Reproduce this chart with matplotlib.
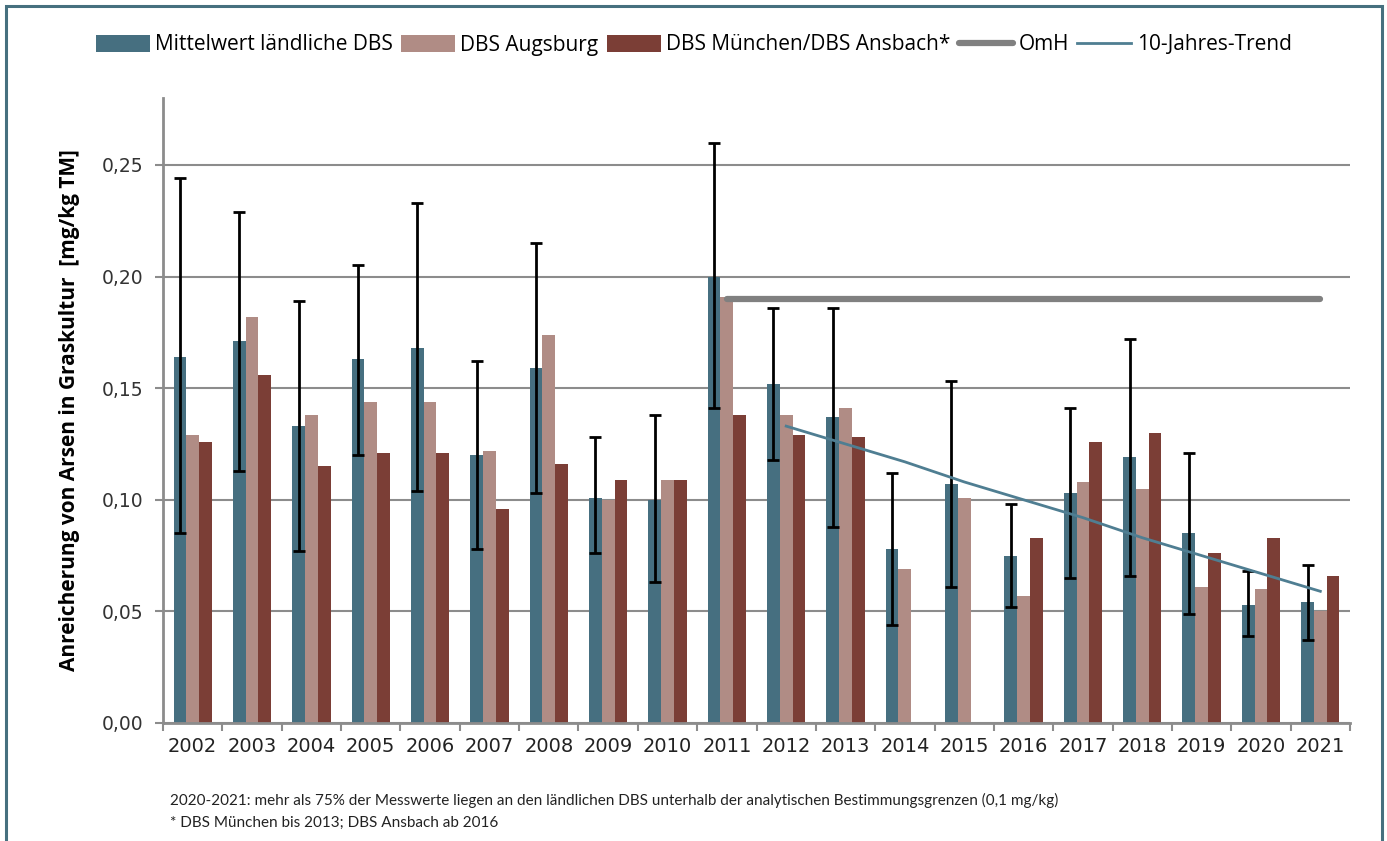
import numpy as np
import matplotlib
matplotlib.use("Agg")
import matplotlib.pyplot as plt
from matplotlib.patches import Rectangle

years = [str(y) for y in range(2002, 2022)]

# Mittelwert laendliche DBS + Fehlerbalken (obere / untere Enden)
rural = [0.164, 0.171, 0.133, 0.163, 0.168, 0.120, 0.159, 0.101, 0.100, 0.200,
         0.152, 0.137, 0.078, 0.107, 0.075, 0.103, 0.119, 0.085, 0.053, 0.054]
err_hi = [0.244, 0.229, 0.189, 0.205, 0.233, 0.162, 0.215, 0.128, 0.138, 0.260,
          0.186, 0.186, 0.112, 0.153, 0.098, 0.141, 0.172, 0.121, 0.068, 0.071]
err_lo = [0.085, 0.113, 0.077, 0.120, 0.104, 0.078, 0.103, 0.076, 0.063, 0.141,
          0.118, 0.088, 0.044, 0.061, 0.052, 0.065, 0.066, 0.049, 0.039, 0.037]
augsburg = [0.129, 0.182, 0.138, 0.144, 0.144, 0.122, 0.174, 0.100, 0.109, 0.191,
            0.138, 0.141, 0.069, 0.101, 0.057, 0.108, 0.105, 0.061, 0.060, 0.050]
muc_ans = [0.126, 0.156, 0.115, 0.121, 0.121, 0.096, 0.116, 0.109, 0.109, 0.138,
           0.129, 0.128, np.nan, np.nan, 0.083, 0.126, 0.130, 0.076, 0.083, 0.066]

omh_years = ["2011", "2021"]
omh_value = [0.19, 0.19]

trend_years = ["2012", "2013", "2014", "2015", "2016", "2017", "2018", "2019", "2020", "2021"]
trend = [0.133, 0.125, 0.117, 0.108, 0.100, 0.092, 0.083, 0.075, 0.067, 0.059]

c_rural = "#466F80"
c_augs = "#B08C85"
c_muc = "#7B3E36"
c_grid = "#8C8C8C"
c_frame = "#46707F"

plt.rcParams["font.family"] = ["DejaVu Sans"]

fig = plt.figure(figsize=(13.87, 8.41), dpi=100)
ax = fig.add_axes([163 / 1387, 1 - 723 / 841, (1350 - 163) / 1387, (723 - 98) / 841])

x = np.arange(len(years))
w = 0.215
yerr = [np.array(rural) - np.array(err_lo), np.array(err_hi) - np.array(rural)]

b1 = ax.bar(x - w, rural, w, color=c_rural, label="Mittelwert ländliche DBS", zorder=2)
b2 = ax.bar(x, augsburg, w, color=c_augs, label="DBS Augsburg", zorder=2)
b3 = ax.bar(x + w, muc_ans, w, color=c_muc, label="DBS München/DBS Ansbach*", zorder=2)
ax.errorbar(x - w, rural, yerr=yerr, fmt="none", ecolor="black", elinewidth=2,
            capsize=4.5, capthick=2, zorder=3)

xo = [years.index(y) for y in omh_years]
l1, = ax.plot(xo, omh_value, color="#808080", lw=4.5, solid_capstyle="round",
              label="OmH", zorder=4)
xt = [years.index(y) for y in trend_years]
l2, = ax.plot(xt, trend, color="#4F7E92", lw=2, label="10-Jahres-Trend", zorder=4)

ax.set_xlim(-0.5, len(years) - 0.5)
ax.set_ylim(0, 0.28)
ticks = np.arange(0, 0.26, 0.05)
ax.set_yticks(ticks)
ax.set_yticklabels([f"{v:.2f}".replace(".", ",") for v in ticks],
                   fontsize=13.5, color="#333333")
ax.set_xticks(x)
ax.set_xticklabels(years, fontsize=14, color="#222222")
ax.set_xticks(np.arange(-0.5, len(years)), minor=True)
ax.tick_params(axis="x", which="major", length=0, pad=10)
ax.tick_params(axis="x", which="minor", length=6, width=1.5, color=c_grid)
ax.tick_params(axis="y", length=6, width=1.5, color=c_grid, pad=8)
ax.yaxis.grid(True, color=c_grid, lw=1.5, zorder=0)
ax.set_axisbelow(True)
for s in ["top", "right"]:
    ax.spines[s].set_visible(False)
for s in ["left", "bottom"]:
    ax.spines[s].set_color(c_grid)
    ax.spines[s].set_linewidth(2)

ax.set_ylabel("Anreicherung von Arsen in Graskultur  [mg/kg TM]", family="Open Sans",
              fontsize=15, fontweight="bold", labelpad=16)

fig.legend([b1, b2, b3, l1, l2],
           ["Mittelwert ländliche DBS", "DBS Augsburg", "DBS München/DBS Ansbach*",
            "OmH", "10-Jahres-Trend"],
           loc="center", bbox_to_anchor=(0.5, 1 - 45 / 841), ncol=5, frameon=False,
           prop={"family": "Open Sans", "size": 15}, handlelength=2.6, handleheight=0.9,
           columnspacing=0.4, handletextpad=0.25)

fig.text(170 / 1387, 1 - 800 / 841,
         "2020-2021: mehr als 75% der Messwerte liegen an den ländlichen DBS unterhalb der analytischen Bestimmungsgrenzen (0,1 mg/kg)",
         family="Lato", fontsize=11, va="center", color="#222222")
fig.text(170 / 1387, 1 - 823 / 841, "* DBS München bis 2013; DBS Ansbach ab 2016",
         family="Lato", fontsize=11, va="center", color="#222222")

fig.patches.append(Rectangle((6 / 1387, -0.05), (1382 - 6) / 1387, 1.05 - 6 / 841,
                             transform=fig.transFigure, fill=False,
                             edgecolor=c_frame, lw=2.2))

fig.savefig("out.png", dpi=100)
